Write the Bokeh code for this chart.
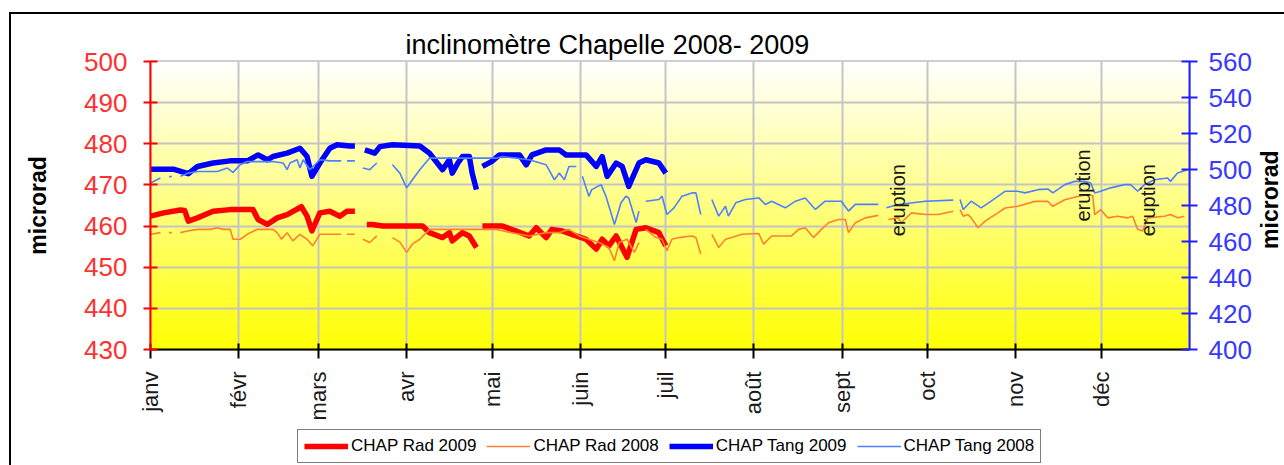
import math
import numpy as np
from bokeh.plotting import figure
from bokeh.layouts import row, column
from bokeh.models import (Range1d, LinearAxis, FixedTicker, Legend, LegendItem, ColumnDataSource)
from bokeh.core.properties import value
from bokeh.embed import file_html
from bokeh.resources import INLINE

# ---------------- data ----------------
title_text = "inclinomètre Chapelle 2008- 2009"
month_days = [0, 31, 59, 90, 120, 151, 181, 212, 243, 273, 304, 334]
month_names = ["janv", "févr", "mars", "avr", "mai", "juin", "juil",
               "août", "sept", "oct", "nov", "déc"]
rad_ticks = [430, 440, 450, 460, 470, 480, 490, 500]
tang_ticks = [400, 420, 440, 460, 480, 500, 520, 540, 560]

# CHAP Rad 2009 (left axis)
rad09_day = [0, 4.6, 10.5, 12, 13.3, 16.5, 22, 28, 36, 37.8,
             41, 44.5, 48, 53, 55, 56.7, 59.5, 63, 66.5, 69,
             71.8, 73.5, 76, 78, 81.6, 88.6, 95.6, 98, 102.6, 105,
             106, 109.6, 112, 114.5, 115.5, 116.6, 120, 123.6, 128.5, 133,
             135.5, 139, 141, 144.7, 148, 153, 156.6, 158.7, 161, 163.6,
             167.4, 170.6, 174, 178.6, 181]
rad09 = [462.4, 463.2, 463.9, 463.8, 461.2, 462.0, 463.6, 464.0, 464.0, 461.6,
         460.4, 462.0, 462.8, 464.7, 462.4, 458.8, 463.2, 463.6, 462.4, 463.6,
         463.6, None, 460.4, 460.4, 460.0, 460.0, 460.0, 458.4, 457.2, 458.4,
         456.4, 458.4, 457.6, 454.8, None, 460.0, 460.0, 460.0, 458.8, 457.6,
         459.6, 457.2, 459.2, 458.8, 458.0, 456.8, 454.4, 456.8, 455.2, 457.6,
         452.4, 459.2, 459.6, 458.4, 455.2]

# CHAP Rad 2008 (left axis)
rad08_day = [0, 3.5, 5, 6.5, 7.5, 8.5, 10.5, 13, 16.5, 21,
             23.5, 25.6, 28, 29, 31.5, 34, 37.5, 43, 44.5, 46,
             48, 50, 52.5, 55, 57, 59.5, 63, 67, 68, 69,
             71.8, 73, 74.6, 77, 79.5, 82, 85, 87.6, 90, 92,
             94.6, 98, 121.5, 126, 133, 139, 143.6, 147, 150.6, 154,
             157.6, 161, 163, 164.6, 167.4, 170, 171.6, 173, 174, 177.6,
             179.7, 181.4, 183.2, 185.6, 190.2, 191.6, 193.3, 195, 197.2, 199.6,
             202, 204.2, 207.7, 213.7, 215.4, 218.2, 223, 225.2, 227.7, 230,
             232.9, 235.7, 238.2, 241.7, 244.1, 245.2, 247.6, 251.1, 255.7, 257,
             259.2, 262.7, 263.7, 267.3, 272.2, 276.7, 282, 283.2, 284.4, 285.5,
             287.2, 288.3, 290.7, 293.2, 297.7, 300.2, 304.7, 310.7, 315.2, 317,
             321.2, 325.7, 329.2, 331, 331.7, 333.8, 336.3, 339.8, 343.3, 345,
             346.8, 348.5, 350.3, 356.2, 358.3, 360.8, 363.2]
rad08 = [458.0, 458.4, None, 458.4, 458.4, None, 458.4, 458.8, 459.2, 459.2,
         459.6, 459.2, 459.2, 456.8, 456.8, 458.0, 459.2, 459.2, 458.4, 456.8,
         458.4, 456.4, 458.0, 456.8, 455.2, 458.0, 458.0, 458.0, None, 458.0,
         458.0, None, 456.8, 456.0, 457.6, None, 457.2, 456.1, 453.6, 455.6,
         456.8, 459.2, 459.2, 458.5, 457.6, 458.4, 458.4, 459.2, 457.6, 456.8,
         456.0, 454.8, 451.6, 456.0, 456.8, 453.6, 456.0, None, 459.2, 457.2,
         456.8, 454.0, 456.8, 457.2, 457.6, 457.2, 453.2, None, 458.0, 454.8,
         456.8, 457.2, 458.0, 458.2, 455.6, 457.6, 457.6, 457.6, 459.2, 459.6,
         457.2, 459.2, 460.8, 461.6, 461.6, 458.4, 460.8, 462.0, 462.6, None,
         461.6, 462.0, 460.8, 463.2, 462.8, 462.8, 463.6, None, 464.0, 462.4,
         462.8, 462.0, 459.6, 461.2, 463.2, 464.4, 464.8, 466.0, 466.0, 464.8,
         466.4, 467.2, 467.6, 467.4, 462.8, 464.0, 462.0, 462.4, 462.0, 462.4,
         459.2, 458.8, 462.0, 462.4, 462.8, 462.0, 462.4]

# CHAP Tang 2009 (right axis)
tang09_day = [0, 8, 13.3, 16.5, 22, 28, 34, 37.8, 41, 43,
              48, 52.5, 55, 56.7, 59.5, 63, 65.5, 70, 71.8, 73.5,
              75.3, 78.8, 80.6, 85, 94.6, 98, 102.6, 105, 106, 108,
              109.6, 112, 113, 114.5, 115.5, 116.6, 119.8, 122.6, 126, 129.6,
              132, 134, 139, 143.6, 146, 147, 153, 156.6, 158.7, 160.4,
              163.6, 165.7, 168, 171.6, 174, 178.6, 181]
tang09 = [500.2, 500.2, 497.7, 501.7, 503.6, 504.8, 504.8, 508.1, 505.4, 507.2,
          509.1, 511.8, 507.2, 496.2, 503.6, 511.8, 513.7, 513.1, 513.1, None,
          510.9, 509.1, 512.7, 513.7, 513.1, 509.1, 499.9, 505.4, 498.0, 503.6,
          507.2, 507.2, 498.0, 488.8, None, 501.7, 504.4, 508.1, 508.1, 508.1,
          502.6, 508.1, 510.9, 510.9, 508.1, 508.1, 508.1, 501.7, 507.2, 496.2,
          503.6, 501.7, 490.6, 503.6, 505.4, 503.6, 498.0]

# CHAP Tang 2008 (right axis)
tang08_day = [0, 3.5, 5, 6.5, 7.5, 8.5, 10.5, 13.3, 16.5, 20,
              23.5, 27, 29, 31.5, 34, 37.5, 43, 46.6, 48, 49,
              51.5, 52.5, 53.6, 56, 59.5, 63, 67, 68, 69, 71.8,
              73, 74.6, 77, 79.5, 82, 85, 87.6, 90, 92, 94.6,
              98, 121.5, 123.6, 133, 139, 141.9, 143.6, 145.4, 147, 149.6,
              150.6, 151.7, 154, 155, 158.3, 160, 163, 165.3, 167, 168,
              170.6, 171.6, 173, 174, 178.6, 179.7, 181.4, 183.9, 186.7, 190.2,
              191.6, 193.3, 195, 197.2, 199.6, 202, 203, 205.6, 209, 213.7,
              216, 218.2, 223, 226.6, 230, 233.6, 237, 242.7, 245.2, 247.6,
              251.1, 255.7, 257, 258.5, 262.7, 272.2, 282, 283.2, 284.4, 285.5,
              288.3, 291.8, 295.3, 300.2, 304.7, 307.2, 311.7, 315.2, 317, 321.2,
              324.7, 328.2, 330.3, 331.7, 333.8, 337.3, 342.2, 344.3, 346.8, 349.2,
              352.7, 357.3, 358.3, 360.8, 364.3]
tang08 = [492.5, 495.3, None, 496.0, 496.2, None, 496.2, 498.0, 498.9, 498.9,
          498.9, 500.8, 498.4, 502.6, 504.4, 504.4, 504.4, 503.6, 499.9, 503.6,
          505.4, 500.8, 505.4, 499.9, 505.4, 504.8, 504.8, None, 504.8, 504.8,
          None, 500.8, 499.9, 503.6, None, 502.6, 498.0, 489.8, 494.3, 499.9,
          506.3, 506.3, 507.2, 505.4, 502.6, 494.3, 498.0, 494.3, 501.7, 501.7,
          None, 496.2, 485.1, 488.8, 491.6, 485.1, 469.5, 481.5, 485.1, 484.2,
          470.5, 476.9, None, 482.4, 483.3, 485.1, 475.0, 478.7, 485.1, 487.0,
          487.0, 475.0, None, 483.3, 474.1, 479.6, 474.1, 481.5, 483.3, 484.2,
          480.6, 482.4, 478.7, 482.4, 484.2, 477.8, 482.4, 482.4, 476.9, 480.6,
          480.6, 480.6, None, 478.7, 480.6, 482.4, 483.0, None, 483.3, 477.8,
          482.4, 478.7, 482.4, 487.9, 487.9, 487.0, 488.8, 489.2, 487.0, 491.6,
          493.4, 493.4, 492.5, 487.0, 487.9, 489.8, 491.6, 491.6, 487.9, 491.6,
          494.3, 495.3, 493.4, 498.0, 499.9]

eruption_days = [262.7, 327.5, 350.3]
eruption_base = [457.5, 461.1, 457.5]
legend_labels = ["CHAP Rad 2009", "CHAP Rad 2008", "CHAP Tang 2009", "CHAP Tang 2008"]
series_colors = ["#ff0000", "#ff8030", "#0000ff", "#4d7fff"]
series_widths = [5.5, 1.6, 5.5, 1.6]


def arr(days, vals):
    n = min(len(days), len(vals))
    d = np.array(days[:n], dtype=float)
    v = np.array([np.nan if x is None else x for x in vals[:n]], dtype=float)
    return d, v


def no_title(fig):
    try:
        fig.title = None
    except Exception:
        fig.title.text = ""
        fig.title.visible = False


FONT = "Liberation Sans"
MB_TOP, MB_BOTTOM = 47, 72
H_MAIN = 409

# ---------------- main chart ----------------
p = figure(width=1243, height=H_MAIN, x_range=Range1d(0, 365), y_range=Range1d(430, 500),
           output_backend="svg", toolbar_location=None,
           min_border_left=139, min_border_right=62, min_border_top=MB_TOP,
           min_border_bottom=MB_BOTTOM)
p.extra_y_ranges = {"tang": Range1d(400, 560)}
p.background_fill_color = "white"
p.border_fill_color = "white"
p.outline_line_color = "#a0a0a0"
p.outline_line_width = 2

# background gradient (white top -> yellow bottom)
n = 120
edges = np.linspace(430, 500, n + 1)
mids = (edges[:-1] + edges[1:]) / 2
t = (mids - 430) / 70.0
cols = ["#ffff%02x" % int(round(255 * tt)) for tt in t]
p.quad(left=0, right=365, bottom=edges[:-1], top=edges[1:], fill_color=cols,
       line_color=cols, line_width=0.6, level="image")

# grid
p.xgrid.ticker = FixedTicker(ticks=month_days)
p.ygrid.ticker = FixedTicker(ticks=rad_ticks)
for g in (p.xgrid[0], p.ygrid[0]):
    g.grid_line_color = "#c4c4c4"
    g.grid_line_width = 2

# x axis
xa = p.xaxis[0]
xa.ticker = FixedTicker(ticks=month_days)
xa.major_label_overrides = {d: m for d, m in zip(month_days, month_names)}
xa.major_label_orientation = math.pi / 2
xa.axis_line_color = "black"
xa.axis_line_width = 2
xa.major_tick_line_color = "black"
xa.major_tick_line_width = 2
xa.major_tick_in = 6
xa.major_tick_out = 9
xa.minor_tick_line_color = None
xa.major_label_text_font = FONT
xa.major_label_text_font_size = "22px"
xa.major_label_text_color = "#1a1a1a"
xa.major_label_standoff = 13

# left axis
ya = p.yaxis[0]
ya.ticker = FixedTicker(ticks=rad_ticks)
ya.axis_line_color = "#ff0000"
ya.axis_line_width = 2
ya.major_tick_line_color = "#ff0000"
ya.major_tick_line_width = 2
ya.major_tick_in = 7
ya.major_tick_out = 7
ya.minor_tick_line_color = None
ya.major_label_text_font = FONT
ya.major_label_text_font_size = "26px"
ya.major_label_text_color = "#ff3030"
ya.major_label_standoff = 16
ya.axis_label = "microrad"
ya.axis_label_text_font = FONT
ya.axis_label_text_font_style = "bold"
ya.axis_label_text_font_size = "23px"
ya.axis_label_text_color = "black"
ya.axis_label_standoff = 30

# right axis
ra = LinearAxis(y_range_name="tang", ticker=FixedTicker(ticks=tang_ticks))
ra.axis_line_color = "#2020ff"
ra.axis_line_width = 2
ra.major_tick_line_color = "#2020ff"
ra.major_tick_line_width = 2
ra.major_tick_in = 8
ra.major_tick_out = 8
ra.minor_tick_line_color = None
ra.major_label_text_font = FONT
ra.major_label_text_font_size = "26px"
ra.major_label_text_color = "#3838ff"
ra.major_label_standoff = 11
p.add_layout(ra, "right")

# series
d, v = arr(rad09_day, rad09)
p.line(d, v, line_color=series_colors[0], line_width=series_widths[0], line_join="round")
d, v = arr(rad08_day, rad08)
p.line(d, v, line_color=series_colors[1], line_width=series_widths[1])
d, v = arr(tang09_day, tang09)
p.line(d, v, line_color=series_colors[2], line_width=series_widths[2], line_join="round",
       y_range_name="tang")
d, v = arr(tang08_day, tang08)
p.line(d, v, line_color=series_colors[3], line_width=series_widths[3], y_range_name="tang")

# eruption annotations
p.text(x=eruption_days, y=eruption_base, text=["eruption"] * len(eruption_days),
       angle=math.pi / 2, text_align="left", text_baseline="middle",
       text_font=value(FONT), text_font_size="20px", text_color="#1a1a1a")

# title
p.title.text = title_text
p.title.align = "left"
p.title.offset = 255
p.title.text_font = FONT
p.title.text_font_size = "27px"
p.title.text_font_style = "normal"
p.title.text_color = "black"
p.title.standoff = 4

# ---------------- right axis title strip ----------------
rlab = figure(width=30, height=H_MAIN, x_range=Range1d(0, 1), y_range=p.y_range,
              output_backend="svg", toolbar_location=None,
              x_axis_location=None, y_axis_location=None,
              min_border_left=0, min_border_right=0, min_border_top=MB_TOP,
              min_border_bottom=MB_BOTTOM)
no_title(rlab)
rlab.outline_line_color = None
rlab.background_fill_color = "white"
rlab.border_fill_color = "white"
rlab.grid.visible = False
rlab.text(x=[0.5], y=[466.4], text=["microrad"], angle=math.pi / 2,
          text_align="center", text_baseline="middle", text_font=value(FONT),
          text_font_style="bold", text_font_size="23px", text_color="black")

# ---------------- legend strip ----------------
leg = figure(width=1273, height=42, x_range=Range1d(0, 1), y_range=Range1d(0, 1),
             output_backend="svg", toolbar_location=None,
             x_axis_location=None, y_axis_location=None, min_border=0)
no_title(leg)
leg.outline_line_color = None
leg.background_fill_color = "white"
leg.border_fill_color = "white"
leg.grid.visible = False
items = []
for lab, c, w in zip(legend_labels, series_colors, series_widths):
    # off-range proxy line: only its legend swatch is visible
    r = leg.line(x="x", y="y", source=ColumnDataSource(dict(x=[-5.0, -4.0], y=[-5.0, -4.0])),
                 line_color=c, line_width=w)
    items.append(LegendItem(label=lab, renderers=[r]))
legend = Legend(items=items, orientation="horizontal", location=(286, 2))
legend.label_text_font = FONT
legend.label_text_font_size = "17px"
legend.label_text_color = "black"
legend.border_line_color = "black"
legend.border_line_width = 1.5
legend.background_fill_color = "white"
legend.background_fill_alpha = 1
legend.padding = 6
legend.spacing = 10
legend.glyph_width = 44
legend.glyph_height = 20
legend.label_standoff = 3
legend.label_height = 20
legend.margin = 0
leg.add_layout(legend, "center")

page = column(row(p, rlab), leg)
page.styles = {"border-left": "2px solid black", "border-top": "2px solid black",
               "margin-top": "12px", "margin-left": "9px"}

open("out.html", "w").write(file_html(page, INLINE))
